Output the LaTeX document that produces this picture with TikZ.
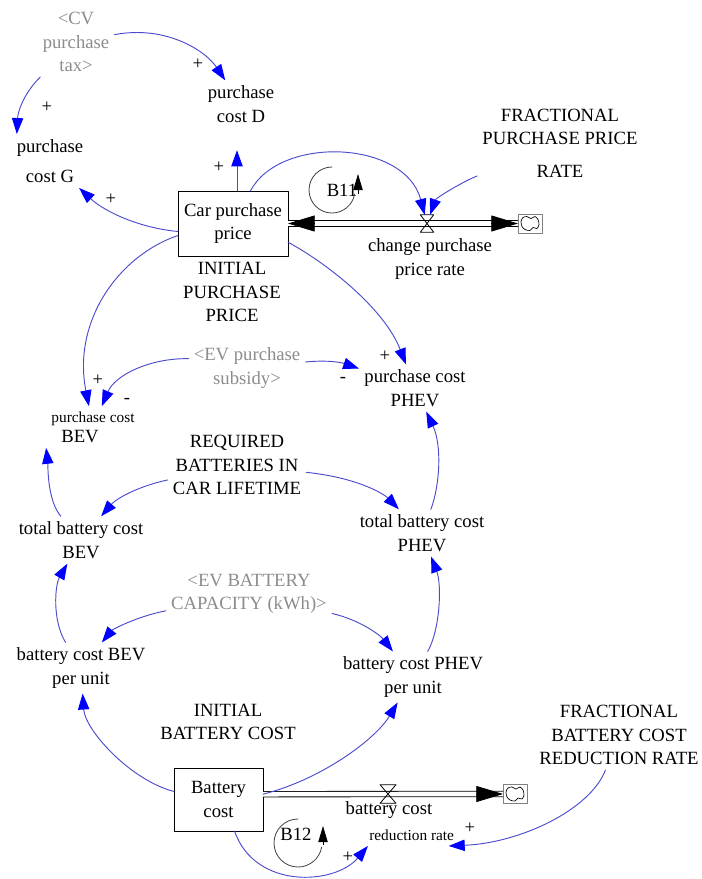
\documentclass[tikz,border=0pt]{standalone}
\usepackage{fontspec}
\setmainfont{Liberation Serif}
\usetikzlibrary{arrows.meta}
\definecolor{linkblue}{RGB}{75,75,205}
\definecolor{tipblue}{RGB}{0,0,255}
\definecolor{shadowgray}{RGB}{140,140,140}
\newcommand{\smallfont}{\fontsize{11.5}{13}\selectfont}
\tikzset{
	var/.style={align=center, inner sep=2pt, outer sep=2pt},
	shadowvar/.style={var, text=shadowgray},
	stockbox/.style={draw, line width=0.6pt, align=center, inner sep=0pt, outer sep=0pt, minimum width=82.5pt, minimum height=48.75pt},
	link/.style={draw=linkblue, line width=0.7pt, -{Triangle[length=12pt,width=8.5pt,color=tipblue]}},
	sign/.style={inner sep=0pt},
	pipe/.style={double, double distance=3.5pt, line width=0.6pt, line cap=butt},
	pipetip/.style={line width=0.6pt, line cap=butt, -{Triangle[length=20pt,width=12pt]}},
	valvebox/.style={inner sep=0pt, outer sep=0pt},
	cloudbox/.style={draw=gray, line width=0.5pt, minimum width=18pt, minimum height=14pt, inner sep=0pt, outer sep=0pt},
	loopline/.style={draw=darkgray, line width=0.6pt},
	looptip/.style={line width=0.6pt, line cap=butt, -{Triangle[length=12pt,width=7pt]}}
}
\newcommand{\cloudin}[1]{%
	\begin{scope}[shift={(#1)}]
		\draw[line width=0.5pt] plot[smooth cycle] coordinates {(-9,-2) (-7,-6) (-3,-7) (1,-5) (5,-7) (8,-4) (9,1) (7,5) (3,4) (0,7) (-5,6) (-8,3)};
	\end{scope}}
\begin{document}
\begin{tikzpicture}[x=0.75pt, y=-0.75pt, font=\fontsize{14}{17.6}\selectfont, line join=round, line cap=round]
		\useasboundingbox (0,0) rectangle (702,879);
		%\draw[gray!30] (0,0) grid[step=50] (702,879);
		% purchase price part
		\node[shadowvar] (cvtax) at (76,42) {<CV\\purchase\\tax>};
		\node[var] (pcD) at (241,104) {purchase\\cost D};
		\node[var] (pcG) at (50,161) {purchase\\[5pt]cost G};
		\node[stockbox] (car) at (233,223.5) {Car purchase\\price};
		\node[var] (initpp) at (232,292) {INITIAL\\PURCHASE\\PRICE};
		\node[valvebox, minimum width=10pt, minimum height=13pt] (valveA) at (427,223.5) {};
		\node[cloudbox] (cloudA) at (530,223.5) {};
		\node[var] (cprate) at (430,259) {change purchase\\price rate};
		\node[var] (fracpp) at (560,143) {FRACTIONAL\\PURCHASE PRICE\\[7pt]RATE};
		\node[var] (B11) at (342,190) {B11};
		\draw[pipe] (car.east) -- (cloudA.west);
		\draw[pipetip] ([xshift=20pt]car.east) -- (car.east);
		\draw[pipetip] ([xshift=-20pt]cloudA.west) -- (cloudA.west);
		\draw[line width=0.6pt] (valveA.north west) -- (valveA.north east) -- (valveA.south west) -- (valveA.south east) -- cycle;
		\cloudin{cloudA}
		\draw[loopline] (B11.center) ++(-10,-23) arc[start angle=-90, end angle=-350, radius=23];
		\draw[looptip] (B11.center) ++(16,4) -- ++(0,-20);
		\draw[link] (cvtax) .. controls (165,25) and (205,50) .. (pcD);
		\draw[link] (cvtax) .. controls (25,92) and (18,110) .. ([xshift=4pt]pcG.north west);
		\draw[link, shorten >=17pt] ([xshift=3pt]car.north) -- ([xshift=-3pt]pcD.south);
		\draw[link] ([yshift=-6pt]car.west) .. controls (140,228) and (105,212) .. (pcG);
		\draw[link] ([xshift=13pt]car.north) .. controls (280,135) and (405,140) .. (valveA);
		\draw[link] (fracpp) .. controls (462,182) and (436,198) .. (valveA);
		\node[sign] (s1) at (198,64) {+};
		\node[sign] (s2) at (47,107) {+};
		\node[sign] (s3) at (219,167) {+};
		\node[sign] (s4) at (111,199) {+};
		% EV purchase costs
		\node[shadowvar] (subsidy) at (247,368) {<EV purchase\\subsidy>};
		\node[var] (pcPHEV) at (415,388) {purchase cost\\PHEV};
		\node[var] (pcBEV) at (93,427) {{\smallfont purchase cost}\\[-2.6pt]BEV\hspace*{19.5pt}};
		\node[var] (required) at (237,465) {REQUIRED\\BATTERIES IN\\CAR LIFETIME};
		\node[var] (tbcBEV) at (81,540) {total battery cost\\BEV};
		\node[var] (tbcPHEV) at (422,533) {total battery cost\\PHEV};
		\node[shadowvar] (capacity) at (249,594) {<EV BATTERY\\CAPACITY (kWh)>};
		\node[var] (bcBEV) at (81,668) {battery cost BEV\\per unit};
		\node[var] (bcPHEV) at (413,677) {battery cost PHEV\\per unit};
		\draw[link] ([yshift=-9pt]car.west) .. controls (120,255) and (72,320) .. (pcBEV);
		\draw[link] ([yshift=-14pt]car.east) .. controls (330,265) and (385,310) .. (pcPHEV);
		\draw[link] ([yshift=7pt]subsidy.west) .. controls (150,358) and (115,375) .. (pcBEV);
		\draw[link] (subsidy) .. controls (325,360) and (340,362) .. (pcPHEV);
		\draw[link] (tbcBEV) .. controls (47,500) and (48,465) .. (pcBEV.south west);
		\draw[link] (required) .. controls (135,487) and (115,500) .. (tbcBEV);
		\draw[link] (required) .. controls (360,478) and (385,495) .. (tbcPHEV);
		\draw[link] (tbcPHEV) .. controls (440,485) and (442,445) .. (pcPHEV);
		\draw[link] (capacity) .. controls (135,617) and (112,630) .. (bcBEV);
		\draw[link] (capacity) .. controls (360,620) and (380,635) .. (bcPHEV);
		\draw[link] (bcBEV) .. controls (52,620) and (55,585) .. (tbcBEV);
		\draw[link] (bcPHEV) .. controls (440,630) and (442,585) .. (tbcPHEV);
		\node[sign] (s5) at (385,356) {+};
		\node[sign] (s6) at (98,380) {+};
		\node[sign] (s7) at (127,401) {-};
		\node[sign] (s8) at (343,380) {-};
		% battery cost part
		\node[var] (initbc) at (228,722) {INITIAL\\BATTERY COST};
		\node[stockbox, minimum width=66.75pt, minimum height=47.25pt] (batt) at (218.5,799.5) {Battery\\cost};
		\node[valvebox, minimum width=12pt, minimum height=14pt] (valveB) at (388,794) {};
		\node[cloudbox] (cloudB) at (515,794) {};
		\node[var] (rate) at (389,821) {battery cost\\[2pt]\hspace*{34pt}{\smallfont reduction rate}};
		\node[var] (fracbc) at (619,735) {FRACTIONAL\\BATTERY COST\\REDUCTION RATE};
		\node[var] (B12) at (296,834) {B12};
		\draw[pipe] ([yshift=4pt]batt.east) -- (cloudB.west);
		\draw[pipetip] ([xshift=-20pt]cloudB.west) -- (cloudB.west);
		\draw[line width=0.6pt] (valveB.north west) -- (valveB.north east) -- (valveB.south west) -- (valveB.south east) -- cycle;
		\cloudin{cloudB}
		\draw[loopline] (B12.center) ++(2,-15) arc[start angle=-90, end angle=-350, radius=24];
		\draw[looptip] (B12.center) ++(27,11) -- ++(0,-19);
		\draw[link] ([yshift=6pt]batt.west) .. controls (130,780) and (85,730) .. (bcBEV);
		\draw[link] ([yshift=4pt]batt.east) .. controls (320,780) and (375,740) .. (bcPHEV);
		\draw[link] ([xshift=12pt]batt.south) .. controls (255,890) and (335,885) .. (rate);
		\draw[link] (fracbc) .. controls (590,810) and (520,843) .. ([xshift=-8pt]rate.south east);
		\node[sign] (s9) at (348,857) {+};
		\node[sign] (s10) at (470,828) {+};
	\end{tikzpicture}
\end{document}
